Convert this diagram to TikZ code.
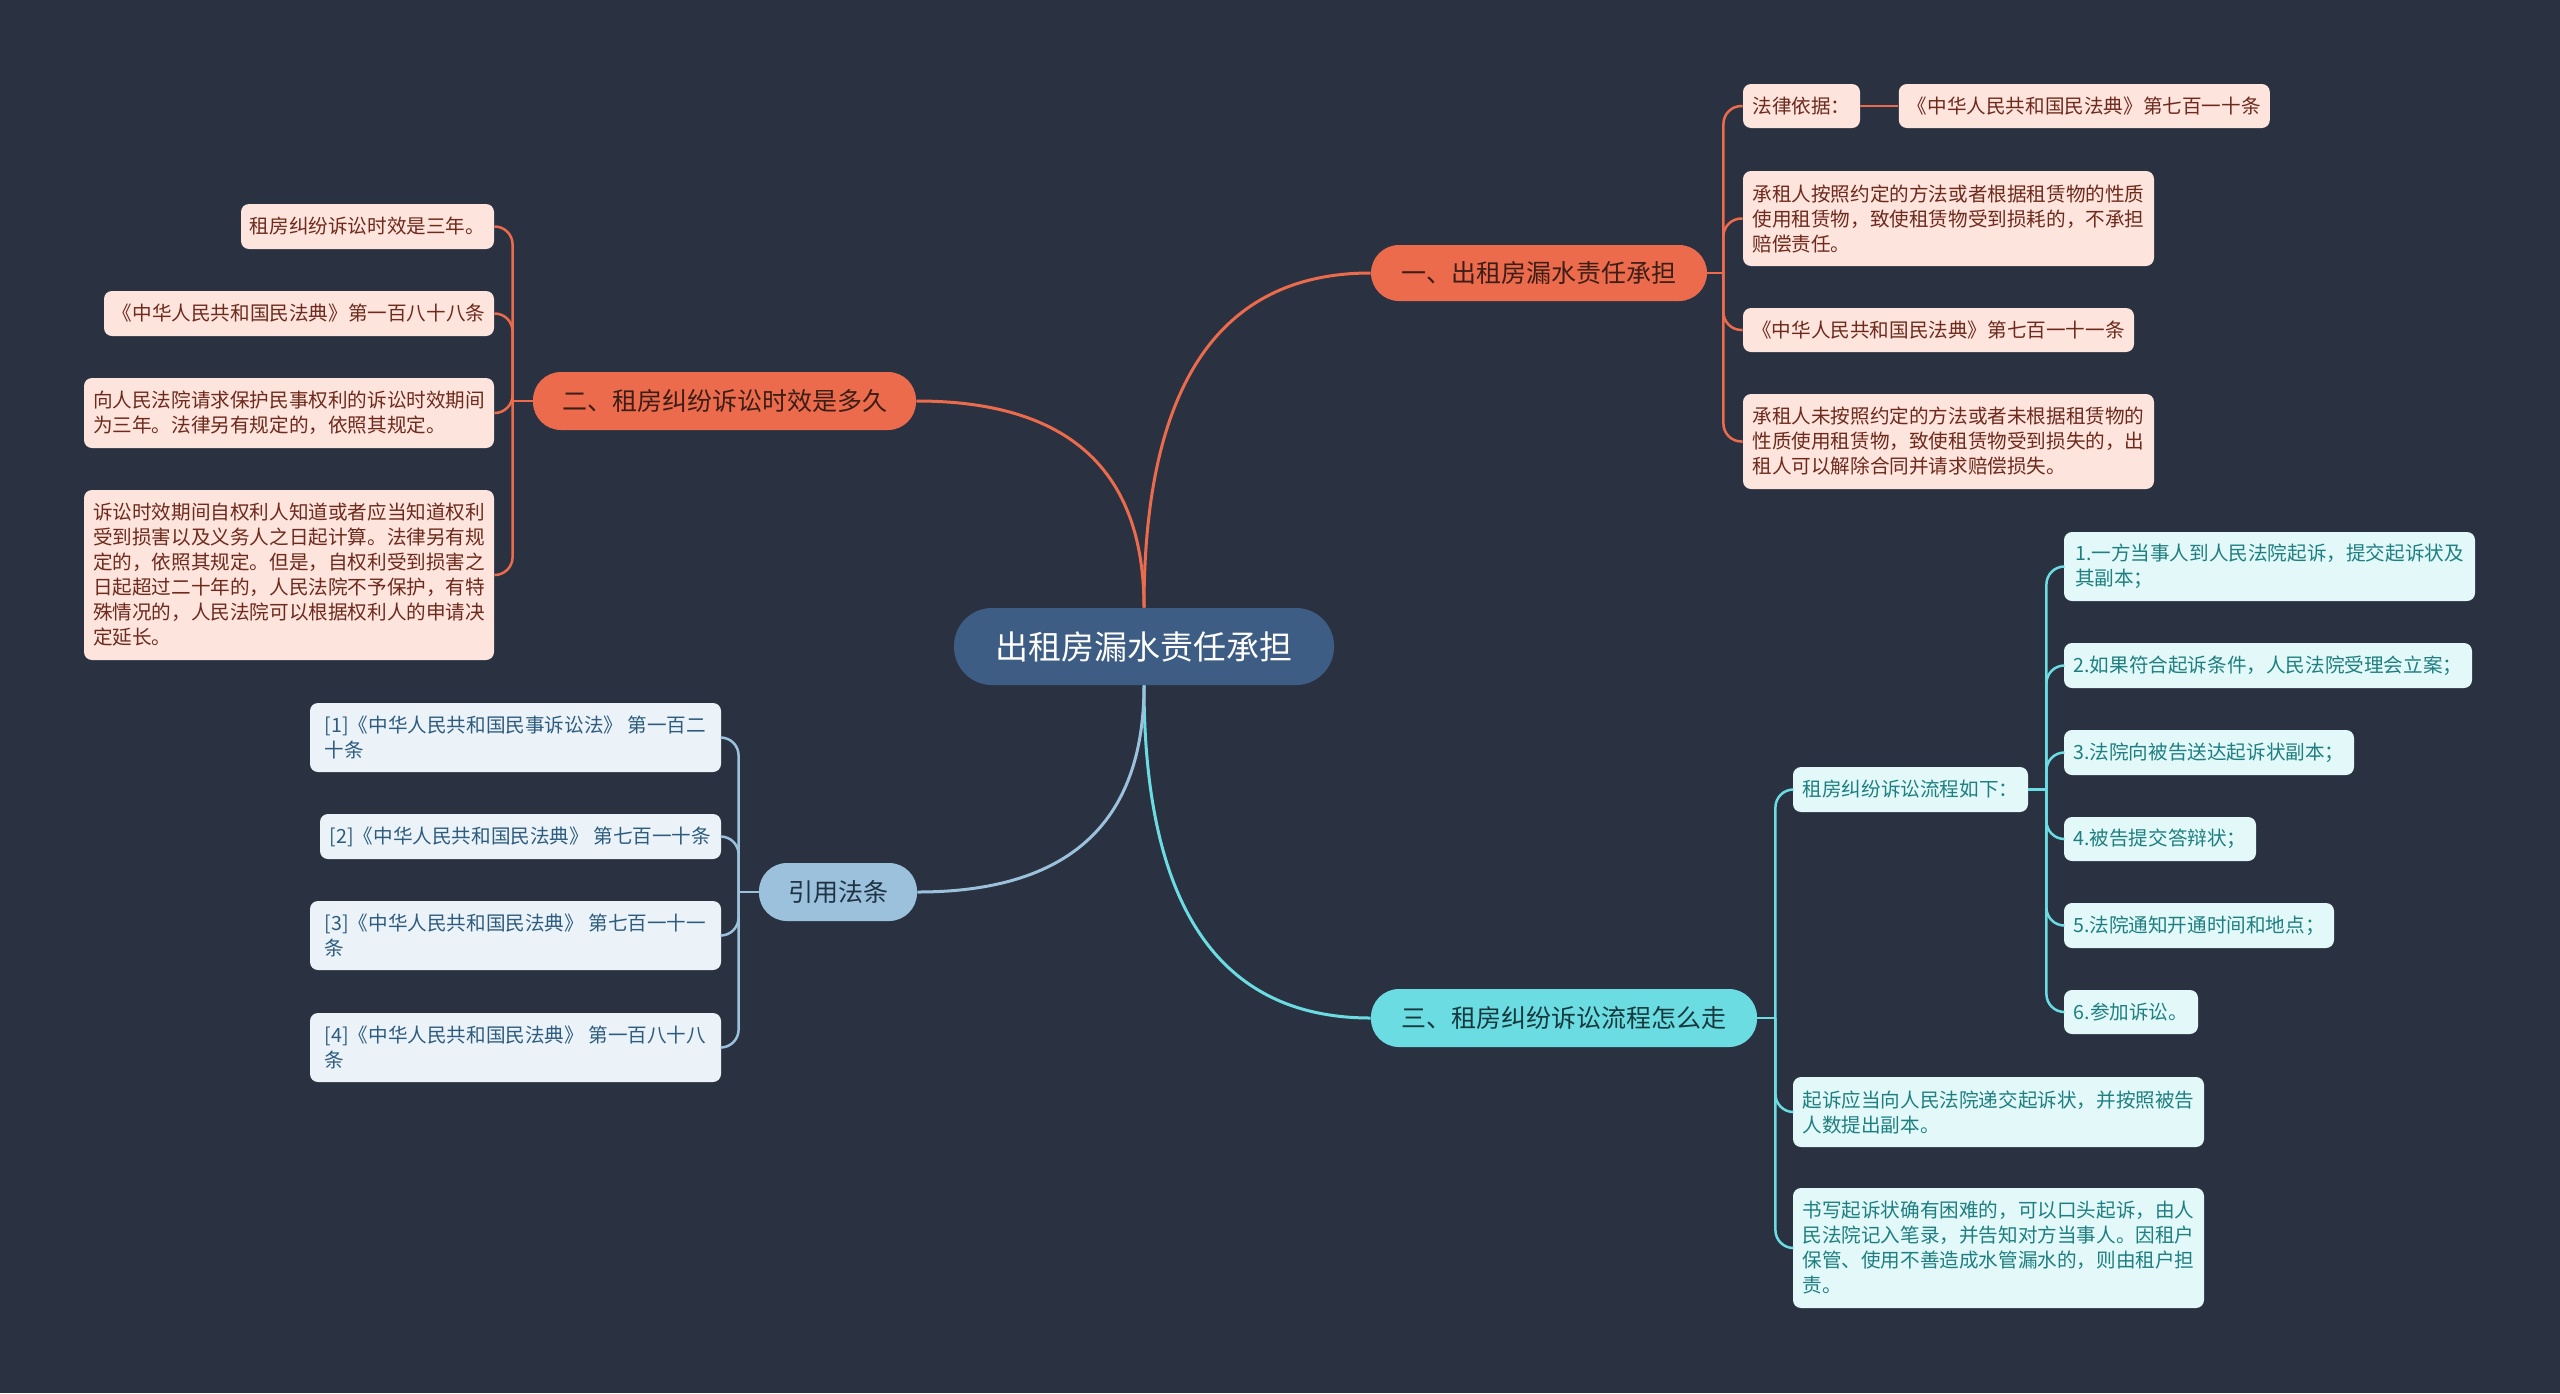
\documentclass[tikz,border=0pt]{standalone}
\usepackage{fontspec}
\setmainfont{Noto Sans CJK SC}
\usepackage{tikz}
\usetikzlibrary{positioning,calc}
\definecolor{bgc}{HTML}{2A3241}
\definecolor{rootc}{HTML}{3E5D84}
\definecolor{orc}{HTML}{EB6B4C}
\definecolor{orleaf}{HTML}{FDE4DD}
\definecolor{ortext}{HTML}{6E2A1C}
\definecolor{orhead}{HTML}{3C1E17}
\definecolor{cyc}{HTML}{6CDCE3}
\definecolor{cyleaf}{HTML}{E2F8F9}
\definecolor{cytext}{HTML}{1F7F80}
\definecolor{cyhead}{HTML}{15393D}
\definecolor{blc}{HTML}{9CC1DC}
\definecolor{blleaf}{HTML}{EBF3F8}
\definecolor{bltext}{HTML}{2E5C7E}
\definecolor{blhead}{HTML}{1F3344}

\begin{document}
\begin{tikzpicture}[x=0.5pt,y=-0.5pt]
      %%%%%%%%%%%%%%%%%%%%%%%%%%%%%%%%%%%%%%%%%%%%%%%%%%
      %% mind map: renting, water leak
      %%%%%%%%%%%%%%%%%%%%%%%%%%%%%%%%%%%%%%%%%%%%%%%%%%
      \tikzstyle{rootnode} = [fill=rootc, text=white, rounded corners=19pt, inner sep=0pt, font=\fontsize{16.5}{20}\selectfont]
      \tikzstyle{bnode} = [rounded corners=14pt, inner sep=0pt, font=\fontsize{12.5}{15}\selectfont]
      \tikzstyle{lnode} = [rounded corners=4pt, inner sep=0pt, align=left, font=\fontsize{9.8}{12.5}\selectfont]
      \tikzstyle{onode} = [lnode, fill=orleaf, text=ortext]
      \tikzstyle{cnode} = [lnode, fill=cyleaf, text=cytext]
      \tikzstyle{pnode} = [lnode, fill=blleaf, text=bltext]
      \tikzstyle{mainline} = [line width=1.5pt]
      \tikzstyle{subline} = [line width=1.25pt, rounded corners=9pt]
      \tikzset{wh/.style 2 args={minimum width=#1*0.5pt, minimum height=#2*0.5pt}}

      \fill[bgc] (0,0) rectangle (2560,1393);

      \node[rootnode, wh={380}{77}] (root) at (1144,646.5) {出租房漏水责任承担};

      \node[bnode, wh={336}{56}, fill=orc, text=orhead] (b1) at (1539,273) {一、出租房漏水责任承担};
      \node[bnode, wh={383}{58}, fill=orc, text=orhead] (b2) at (724.5,401) {二、租房纠纷诉讼时效是多久};
      \node[bnode, wh={386}{58}, fill=cyc, text=cyhead] (b3) at (1564,1018) {三、租房纠纷诉讼流程怎么走};
      \node[bnode, wh={158}{58}, fill=blc, text=blhead] (b4) at (838,892) {引用法条};

      %% branch one
      \node[onode, wh={117}{44}] (l1a) at (1801.5,106) {法律依据：};
      \node[onode, wh={371}{44}, right=19pt of l1a] (l1b) {《中华人民共和国民法典》第七百一十条};
      \node[onode, wh={411}{95}] (l1c) at (1948.5,218.5) {承租人按照约定的方法或者根据租赁物的性质\\使用租赁物，致使租赁物受到损耗的，不承担\\赔偿责任。};
      \node[onode, wh={391}{44}] (l1d) at (1938.5,330) {《中华人民共和国民法典》第七百一十一条};
      \node[onode, wh={411}{95}] (l1e) at (1948.5,441.5) {承租人未按照约定的方法或者未根据租赁物的\\性质使用租赁物，致使租赁物受到损失的，出\\租人可以解除合同并请求赔偿损失。};

      %% branch two
      \node[onode, wh={253}{45}] (l2a) at (367.5,226.5) {租房纠纷诉讼时效是三年。};
      \node[onode, wh={390}{45}] (l2b) at (299,313.5) {《中华人民共和国民法典》第一百八十八条};
      \node[onode, wh={410}{70}] (l2c) at (289,413) {向人民法院请求保护民事权利的诉讼时效期间\\为三年。法律另有规定的，依照其规定。};
      \node[onode, wh={410}{170}] (l2d) at (289,575) {诉讼时效期间自权利人知道或者应当知道权利\\受到损害以及义务人之日起计算。法律另有规\\定的，依照其规定。但是，自权利受到损害之\\日起超过二十年的，人民法院不予保护，有特\\殊情况的，人民法院可以根据权利人的申请决\\定延长。};

      %% branch three
      \node[cnode, wh={235}{45}] (s0) at (1910.5,789.5) {租房纠纷诉讼流程如下：};
      \node[cnode, wh={411}{69}] (s1) at (2269.5,566.5) {1.一方当事人到人民法院起诉，提交起诉状及\\其副本；};
      \node[cnode, wh={408}{45}] (s2) at (2268,665.5) {2.如果符合起诉条件，人民法院受理会立案；};
      \node[cnode, wh={290}{45}] (s3) at (2209,752.5) {3.法院向被告送达起诉状副本；};
      \node[cnode, wh={192}{44}] (s4) at (2160,839) {4.被告提交答辩状；};
      \node[cnode, wh={270}{45}] (s5) at (2199,925.5) {5.法院通知开通时间和地点；};
      \node[cnode, wh={134}{44}] (s6) at (2131,1012) {6.参加诉讼。};
      \node[cnode, wh={411}{70}] (l3b) at (1998.5,1112) {起诉应当向人民法院递交起诉状，并按照被告\\人数提出副本。};
      \node[cnode, wh={411}{120}] (l3c) at (1998.5,1248) {书写起诉状确有困难的，可以口头起诉，由人\\民法院记入笔录，并告知对方当事人。因租户\\保管、使用不善造成水管漏水的，则由租户担\\责。};

      %% branch four
      \node[pnode, wh={411}{69}] (l4a) at (515.5,737.5) {[1]《中华人民共和国民事诉讼法》 第一百二\\十条};
      \node[pnode, wh={401}{45}] (l4b) at (520.5,836.5) {[2]《中华人民共和国民法典》 第七百一十条};
      \node[pnode, wh={411}{69}] (l4c) at (515.5,935.5) {[3]《中华人民共和国民法典》 第七百一十一\\条};
      \node[pnode, wh={411}{69}] (l4d) at (515.5,1047.5) {[4]《中华人民共和国民法典》 第一百八十八\\条};

      %% main connectors
      \draw[mainline, orc] (root.north) .. controls +(0,-223) and +(-151,0) .. (b1.west);
      \draw[mainline, orc] (root.north) .. controls +(0,-138) and +(152,0) .. (b2.east);
      \draw[mainline, cyc] (root.south) .. controls +(0,222) and +(-151,0) .. (b3.west);
      \draw[mainline, blc] (root.south) .. controls +(0,138) and +(151,0) .. (b4.east);

      %% brackets
      \coordinate (j1) at ([xshift=8pt]b1.east);
      \coordinate (j2) at ([xshift=-10pt]b2.west);
      \coordinate (j3) at ([xshift=9pt]b3.east);
      \coordinate (j4) at ([xshift=-10pt]b4.west);
      \coordinate (js) at ([xshift=9pt]s0.east);

      \draw[subline, orc] (b1.east) -- (j1);
      \draw[subline, orc] (j1) |- (l1a.west);
      \draw[subline, orc] (j1) |- (l1c.west);
      \draw[subline, orc] (j1) |- (l1d.west);
      \draw[subline, orc] (j1) |- (l1e.west);
      \draw[subline, orc] (l1a) -- (l1b);

      \draw[subline, orc] (b2.west) -- (j2);
      \draw[subline, orc] (j2) |- (l2a.east);
      \draw[subline, orc] (j2) |- (l2b.east);
      \draw[subline, orc] (j2) |- (l2c.east);
      \draw[subline, orc] (j2) |- (l2d.east);

      \draw[subline, cyc] (b3.east) -- (j3);
      \draw[subline, cyc] (j3) |- (s0.west);
      \draw[subline, cyc] (j3) |- (l3b.west);
      \draw[subline, cyc] (j3) |- (l3c.west);
      \draw[subline, cyc] (s0.east) -- (js);
      \draw[subline, cyc] (js) |- (s1.west);
      \draw[subline, cyc] (js) |- (s2.west);
      \draw[subline, cyc] (js) |- (s3.west);
      \draw[subline, cyc] (js) |- (s4.west);
      \draw[subline, cyc] (js) |- (s5.west);
      \draw[subline, cyc] (js) |- (s6.west);

      \draw[subline, blc] (b4.west) -- (j4);
      \draw[subline, blc] (j4) |- (l4a.east);
      \draw[subline, blc] (j4) |- (l4b.east);
      \draw[subline, blc] (j4) |- (l4c.east);
      \draw[subline, blc] (j4) |- (l4d.east);
\end{tikzpicture}
\end{document}
